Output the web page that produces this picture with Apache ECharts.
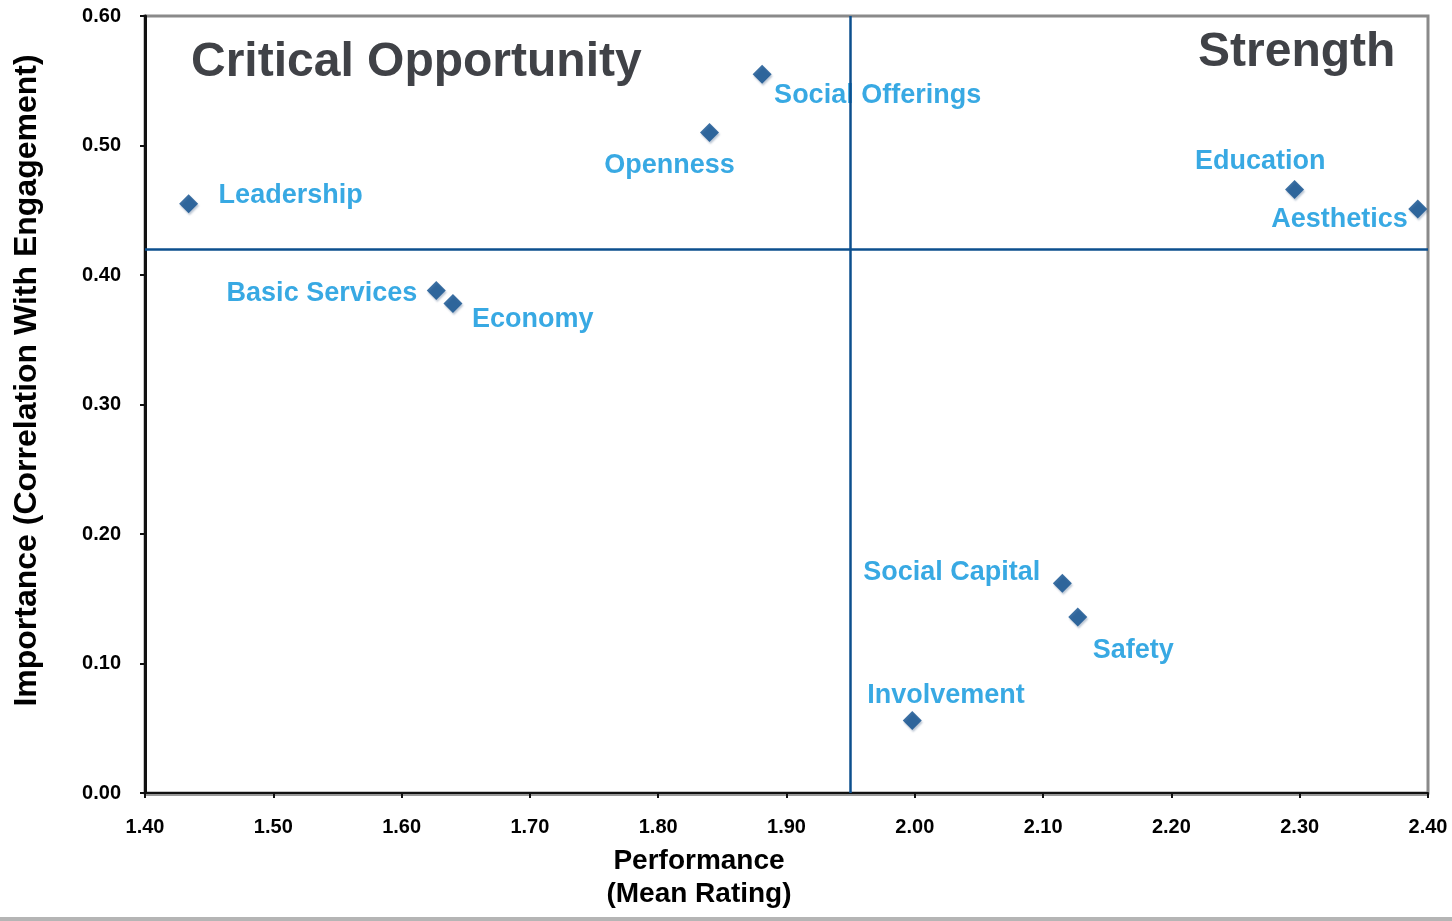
<!DOCTYPE html>
<html>
<head>
<meta charset="utf-8">
<title>Importance vs Performance</title>
<script src="https://cdn.jsdelivr.net/npm/echarts@6.0.0/dist/echarts.min.js"></script>
<style>
  html, body { margin: 0; padding: 0; background: #fff; }
  #chart { width: 1452px; height: 921px; }
</style>
</head>
<body>
<div id="chart"></div>
<script>
// drivers and their scores
var drivers = ['Leadership', 'Basic Services', 'Economy', 'Openness', 'Social Offerings',
               'Education', 'Aesthetics', 'Social Capital', 'Safety', 'Involvement'];
var performance = [1.434, 1.627, 1.640, 1.840, 1.881, 2.296, 2.392, 2.115, 2.127, 1.998];
var importance  = [0.455, 0.388, 0.378, 0.510, 0.555, 0.466, 0.451, 0.162, 0.136, 0.056];

// quadrant split values
var perfSplit = 1.9525;
var impSplit = 0.4225;

var xTicks = { min: 1.4, max: 2.4, step: 0.1 };
var yTicks = { min: 0, max: 0.6, step: 0.1 };

// where each label sits next to its diamond
var labelPlace = {
  'Leadership':       { align: 'left',   offset: [30, -8] },
  'Basic Services':   { align: 'right',  offset: [-19, 3] },
  'Economy':          { align: 'left',   offset: [19, 16] },
  'Openness':         { align: 'center', offset: [-40, 33] },
  'Social Offerings': { align: 'left',   offset: [12, 21] },
  'Education':        { align: 'right',  offset: [31, -28] },
  'Aesthetics':       { align: 'right',  offset: [-10, 11] },
  'Social Capital':   { align: 'right',  offset: [-22, -11] },
  'Safety':           { align: 'left',   offset: [15, 34] },
  'Involvement':      { align: 'left',   offset: [-45, -25] }
};

var FONT = '"Liberation Sans", Arial, Helvetica, sans-serif';

var points = drivers.map(function (name, i) {
  var p = labelPlace[name];
  return {
    name: name,
    value: [performance[i], importance[i]],
    label: { align: p.align, offset: p.offset }
  };
});

var myChart = echarts.init(document.getElementById('chart'));
myChart.setOption({
  animation: false,
  backgroundColor: '#fff',
  grid: {
    left: 145, right: 24, top: 16, bottom: 128,
    show: true,
    borderColor: '#8a8a8a',
    borderWidth: 3
  },
  xAxis: {
    type: 'value',
    min: xTicks.min, max: xTicks.max, interval: xTicks.step,
    name: 'Performance\n(Mean Rating)',
    nameLocation: 'middle',
    nameGap: 52,
    nameTextStyle: {
      fontFamily: FONT, fontWeight: 'bold', fontSize: 28, color: '#000',
      lineHeight: 33, padding: [0, 175, 0, 0]
    },
    splitLine: { show: false },
    axisLine: { lineStyle: { color: '#111', width: 2, shadowColor: '#999', shadowOffsetY: 2 } },
    axisTick: { inside: false, length: 5, lineStyle: { color: '#111', width: 2 } },
    axisLabel: {
      margin: 24,
      fontFamily: FONT, fontWeight: 'bold', fontSize: 20, color: '#000',
      formatter: function (v) { return v.toFixed(2); }
    }
  },
  yAxis: {
    type: 'value',
    min: yTicks.min, max: yTicks.max, interval: yTicks.step,
    name: 'Importance (Correlation With Engagement)',
    nameLocation: 'middle',
    nameRotate: 90,
    nameGap: 102,
    nameTextStyle: {
      fontFamily: FONT, fontWeight: 'bold', fontSize: 32, color: '#000',
      padding: [0, 0, 0, 48]
    },
    splitLine: { show: false },
    axisLine: { lineStyle: { color: '#111', width: 3 } },
    axisTick: { inside: false, length: 5, lineStyle: { color: '#111', width: 2 } },
    axisLabel: {
      margin: 24,
      fontFamily: FONT, fontWeight: 'bold', fontSize: 20, color: '#000',
      formatter: function (v) { return v.toFixed(2); }
    }
  },
  graphic: [
    {
      type: 'text', left: 191, top: 39,
      style: { text: 'Critical Opportunity', font: 'bold 48px ' + FONT, fill: '#404247' }
    },
    {
      type: 'text', left: 1198, top: 29,
      style: { text: 'Strength', font: 'bold 48px ' + FONT, fill: '#404247' }
    },
    {
      type: 'rect', left: 0, top: 917,
      shape: { width: 1452, height: 4 },
      style: { fill: '#b5b5b5' }
    }
  ],
  series: [{
    type: 'scatter',
    symbol: 'diamond',
    symbolSize: 19,
    data: points,
    itemStyle: {
      color: '#0b4c8c',
      shadowColor: 'rgba(10,50,100,0.35)',
      shadowBlur: 2,
      shadowOffsetX: 1,
      shadowOffsetY: 2
    },
    label: {
      show: true,
      position: 'inside',
      verticalAlign: 'middle',
      formatter: '{b}',
      fontFamily: FONT,
      fontWeight: 'bold',
      fontSize: 27,
      color: '#0693dc'
    },
    markLine: {
      silent: true,
      symbol: 'none',
      label: { show: false },
      lineStyle: { color: '#0c4f8e', width: 2.5, type: 'solid' },
      data: [{ xAxis: perfSplit }, { yAxis: impSplit }]
    }
  }]
});
</script>
</body>
</html>
